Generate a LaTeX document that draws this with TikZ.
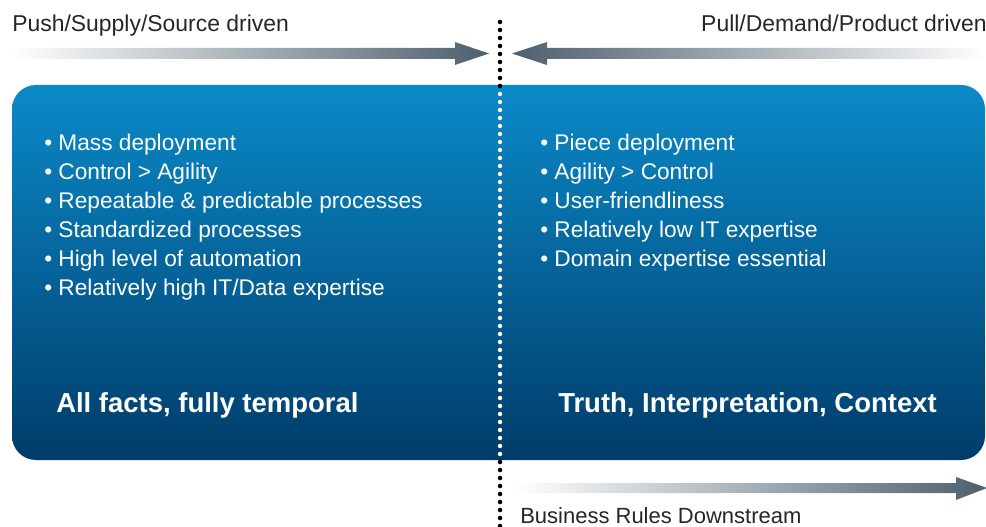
\documentclass[tikz,border=0pt]{standalone}
\usepackage{fontspec}
\setmainfont{Liberation Sans}
\definecolor{boxtop}{HTML}{0A8AC8}
\definecolor{boxbot}{HTML}{003C6A}
\definecolor{arrowdark}{HTML}{4D5F6E}
\tikzset{
  lbl/.style={inner sep=0pt, font=\fontsize{17.2}{21.75}\selectfont, text=black!85},
  blbl/.style={inner sep=0pt, font=\fontsize{16.5}{21.75}\selectfont, text=black!85},
  bullet/.style={inner sep=0pt, anchor=base west, text=white, font=\fontsize{17}{21.75}\selectfont},
  bigtitle/.style={inner sep=0pt, text=white, font=\fontsize{20.6}{24}\selectfont\bfseries},
  dotline/.style={line width=3.4pt, line cap=round, dash pattern=on 0pt off 6pt},
}
\begin{document}
\begin{tikzpicture}[x=0.75pt,y=-0.75pt]
\useasboundingbox (0,0) rectangle (986,527);
% main gradient box
\shade[top color=boxtop, bottom color=boxbot, rounded corners=18pt] (12,85) rectangle (985,460);
% arrows
\shade[left color=white, right color=arrowdark]
  (12,48) -- (455,48) -- (455,42) -- (489,53.5) -- (455,65) -- (455,59) -- (12,59) -- cycle;
\shade[left color=arrowdark, right color=white]
  (986,48) -- (547,48) -- (547,42) -- (512,53.5) -- (547,65) -- (547,59) -- (986,59) -- cycle;
\shade[left color=white, right color=arrowdark]
  (515,483) -- (956,483) -- (956,477) -- (987,488) -- (956,500) -- (956,493) -- (515,493) -- cycle;
% dotted divider
\coordinate (dtop) at (500,22);
\coordinate (dbot) at (500,528);
\coordinate (wtop) at (500,94);
\coordinate (wbot) at (500,454);
\draw[dotline, black] (dtop) -- (dbot);
\draw[dotline, white] (wtop) -- (wbot);
% labels
\node[lbl, anchor=base west] (push) at (12,32) {Push/Supply/Source driven};
\node[lbl, anchor=base east] (pull) at (987,32) {Pull/Demand/Product driven};
\node[blbl, anchor=base west] (brd) at (520,523) {Business Rules Downstream};
% bullet lists
\foreach \t [count=\i] in {Mass deployment, Control > Agility, Repeatable \& predictable processes, Standardized processes, High level of automation, Relatively high IT/Data expertise}
  \node[bullet] (l\i) at (44,{151+29*(\i-1)}) {\textbullet\ \t};
\foreach \t [count=\i] in {Piece deployment, Agility > Control, User-friendliness, Relatively low IT expertise, Domain expertise essential}
  \node[bullet] (r\i) at (540,{151+29*(\i-1)}) {\textbullet\ \t};
% titles
\node[bigtitle, anchor=base west] (lt) at (56,412) {All facts, fully temporal};
\node[bigtitle, anchor=base west] (rt) at (558,412) {Truth, Interpretation, Context};
\end{tikzpicture}
\end{document}
